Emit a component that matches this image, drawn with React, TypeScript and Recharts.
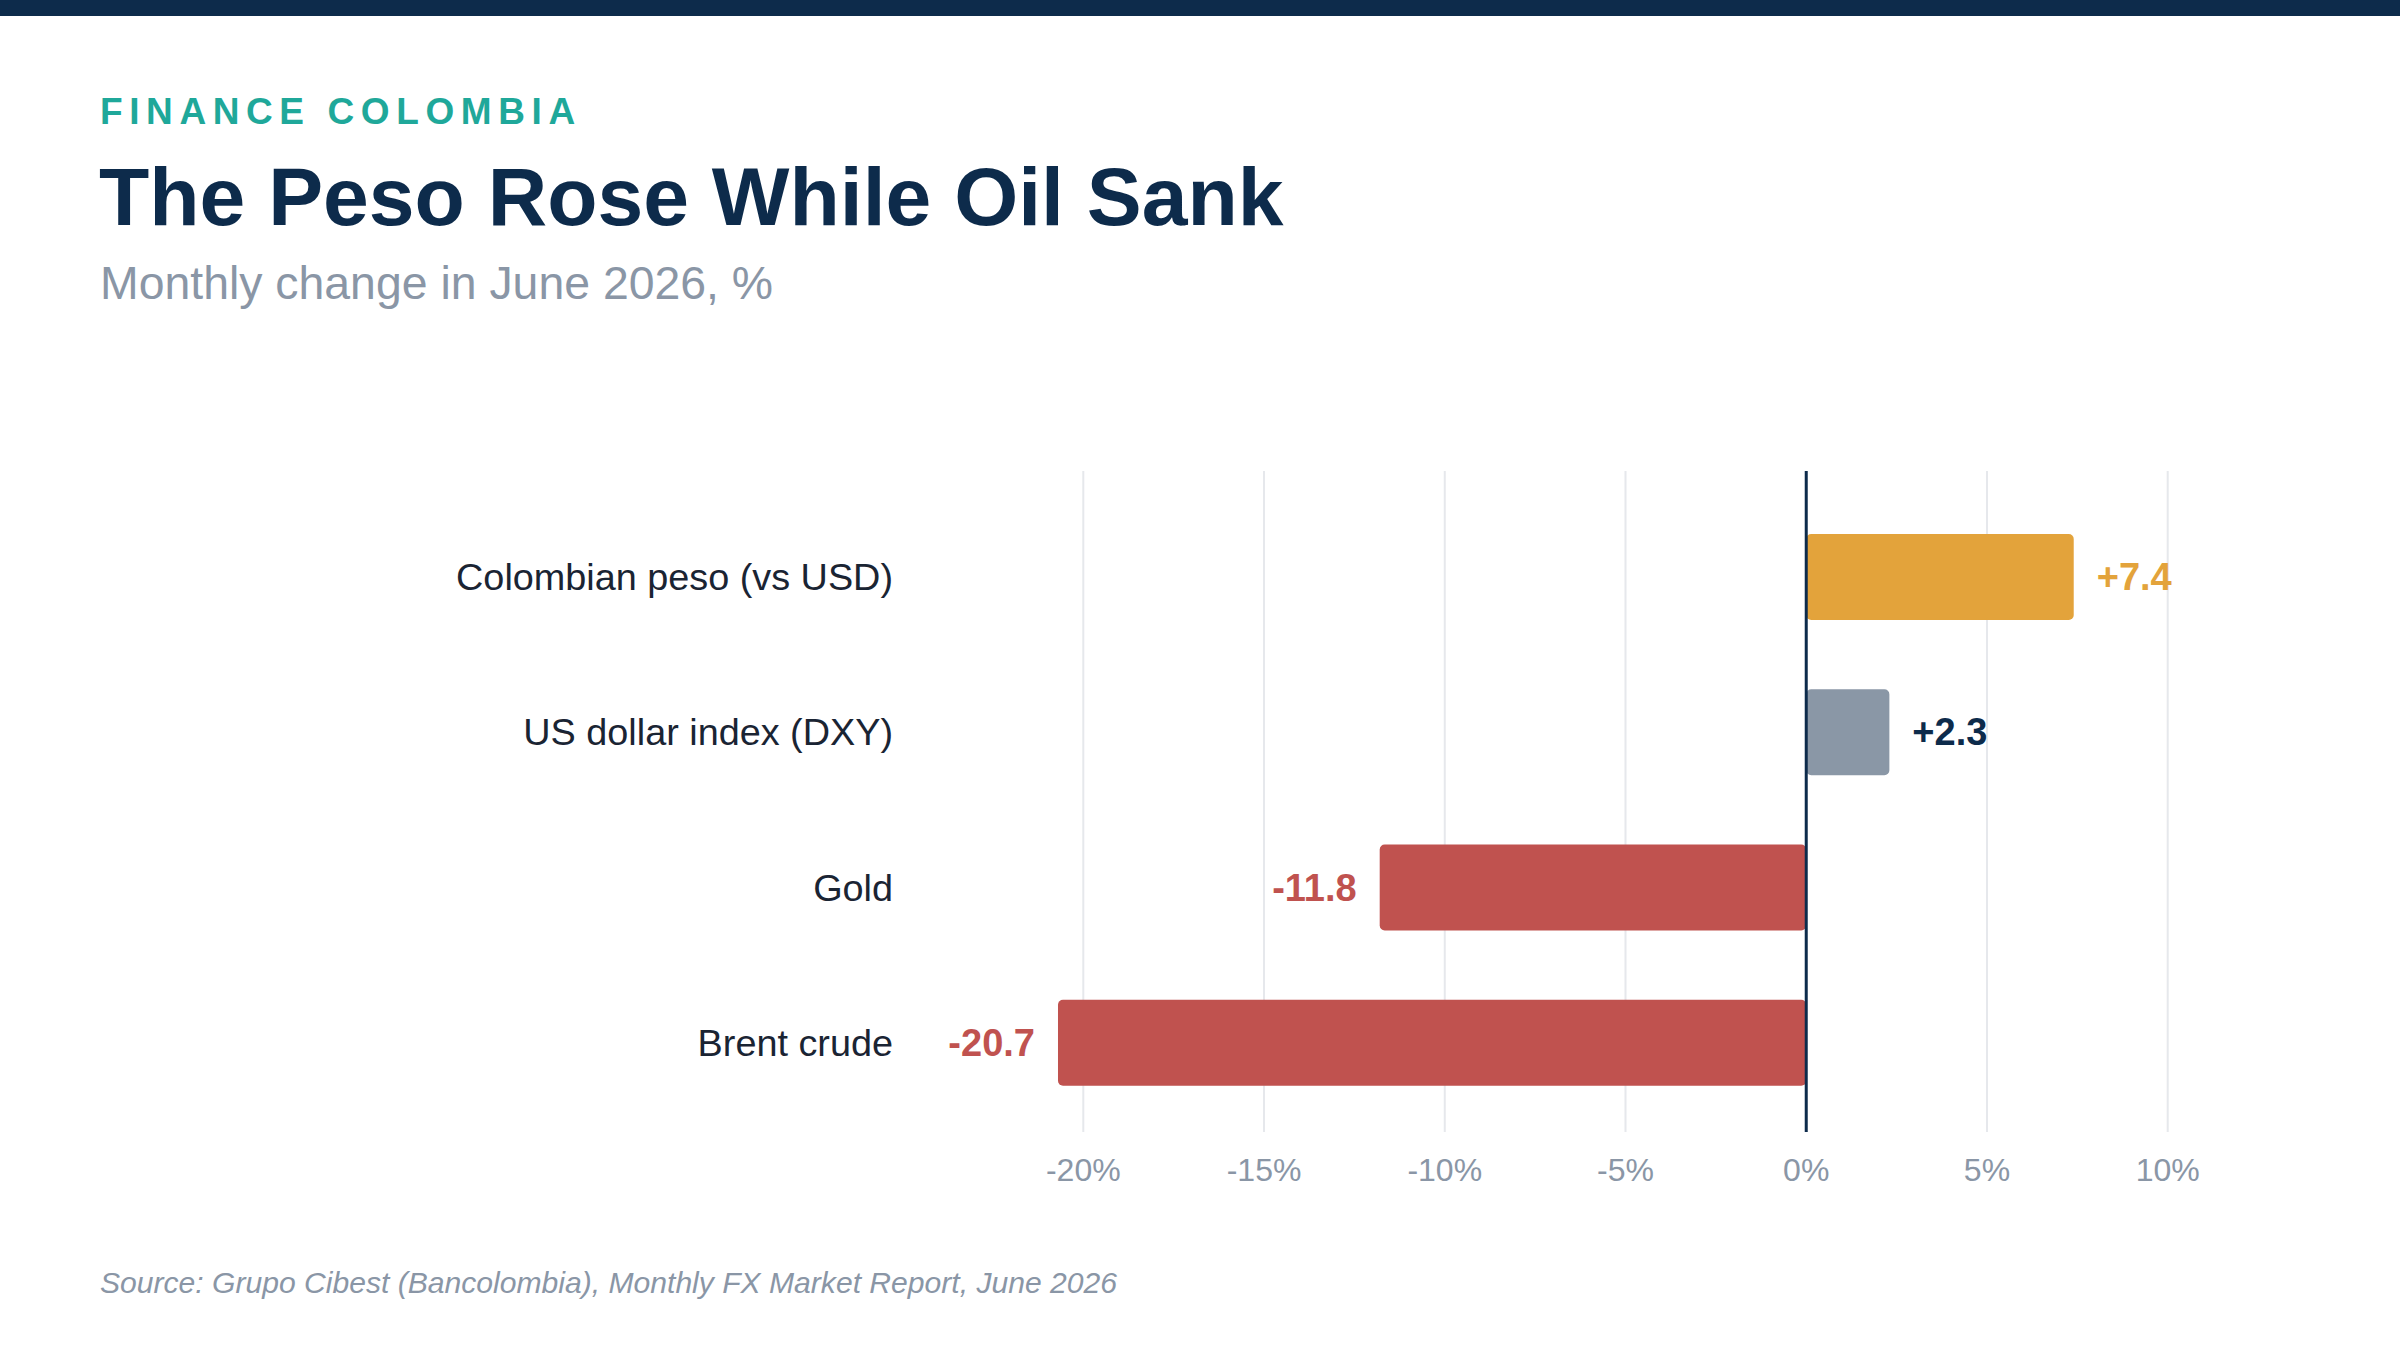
import React from 'react';
import {
  BarChart,
  Bar,
  XAxis,
  YAxis,
  CartesianGrid,
  ReferenceLine,
  Cell,
  LabelList,
} from 'recharts';

// June 2026 monthly change, %
const categories = [
  'Colombian peso (vs USD)',
  'US dollar index (DXY)',
  'Gold',
  'Brent crude',
];
const changes = [7.4, 2.3, -11.8, -20.7];
const xTicks = [-20, -15, -10, -5, 0, 5, 10];

const barColors = ['#E3A33B', '#8A97A6', '#C0524F', '#C0524F'];
const labelColors = ['#E3A33B', '#0D2B4B', '#C0524F', '#C0524F'];

const data = categories.map((name, i) => ({ name, value: changes[i] }));

const FONT = '"Liberation Sans", Arial, Helvetica, sans-serif';
const NAVY = '#0D2B4B';
const GREY = '#8A96A6';

const ValueLabel = (props: any) => {
  const { x, y, width, height, value, index } = props;
  const left = Math.min(x, x + width);
  const right = Math.max(x, x + width);
  const neg = value < 0;
  const tx = neg ? left - 23 : right + 23;
  const text = (neg ? '' : '+') + value.toFixed(1);
  return (
    <text
      x={tx}
      y={y + height / 2}
      textAnchor={neg ? 'end' : 'start'}
      dominantBaseline="central"
      fill={labelColors[index]}
      fontSize={38}
      fontWeight={700}
      fontFamily={FONT}
    >
      {text}
    </text>
  );
};

export default function App() {
  return (
    <div
      style={{
        position: 'relative',
        width: 2400,
        height: 1350,
        background: '#fff',
        fontFamily: FONT,
        overflow: 'hidden',
      }}
    >
      <style>{`body{margin:0;}`}</style>
      <div style={{ position: 'absolute', left: 0, top: 0, width: 2400, height: 16, background: NAVY }} />

      <div
        style={{
          position: 'absolute',
          left: 100,
          top: 93,
          fontSize: 37,
          lineHeight: '37px',
          fontWeight: 700,
          letterSpacing: '6.6px',
          color: '#1FA89A',
          whiteSpace: 'nowrap',
        }}
      >
        FINANCE COLOMBIA
      </div>
      <div
        style={{
          position: 'absolute',
          left: 99,
          top: 155,
          fontSize: 82.3,
          lineHeight: '82px',
          fontWeight: 700,
          color: NAVY,
          whiteSpace: 'nowrap',
        }}
      >
        The Peso Rose While Oil Sank
      </div>
      <div
        style={{
          position: 'absolute',
          left: 100,
          top: 260,
          fontSize: 46.4,
          lineHeight: '46px',
          color: GREY,
          whiteSpace: 'nowrap',
        }}
      >
        Monthly change in June 2026, %
      </div>

      <div style={{ position: 'absolute', left: 0, top: 0 }}>
        <BarChart
          width={2400}
          height={1350}
          data={data}
          layout="vertical"
          margin={{ top: 471, right: 160, bottom: 158, left: 0 }}
        >
          <CartesianGrid horizontal={false} syncWithTicks stroke="#E6E8EC" strokeWidth={2} />
          <XAxis
            type="number"
            domain={[-22, 12]}
            ticks={xTicks}
            height={60}
            tickFormatter={(v: number) => `${v}%`}
            axisLine={false}
            tickLine={false}
            tickSize={0}
            tickMargin={26}
            tick={{ fill: GREY, fontSize: 32, fontFamily: FONT }}
          />
          <YAxis
            type="category"
            dataKey="name"
            width={1011}
            axisLine={false}
            tickLine={false}
            tickSize={0}
            tickMargin={118}
            padding={{ top: 28, bottom: 12 }}
            tick={{ fill: '#1A2433', fontSize: 37.8, fontFamily: FONT }}
          />
          <Bar dataKey="value" barSize={86} radius={5} isAnimationActive={false}>
            {data.map((d, i) => (
              <Cell key={d.name} fill={barColors[i]} />
            ))}
            <LabelList dataKey="value" content={ValueLabel} />
          </Bar>
          <ReferenceLine x={0} stroke={NAVY} strokeWidth={3} />
        </BarChart>
      </div>

      <div
        style={{
          position: 'absolute',
          left: 100,
          top: 1268,
          fontSize: 30.1,
          lineHeight: '30px',
          fontStyle: 'italic',
          color: GREY,
          whiteSpace: 'nowrap',
        }}
      >
        Source: Grupo Cibest (Bancolombia), Monthly FX Market Report, June 2026
      </div>
    </div>
  );
}
